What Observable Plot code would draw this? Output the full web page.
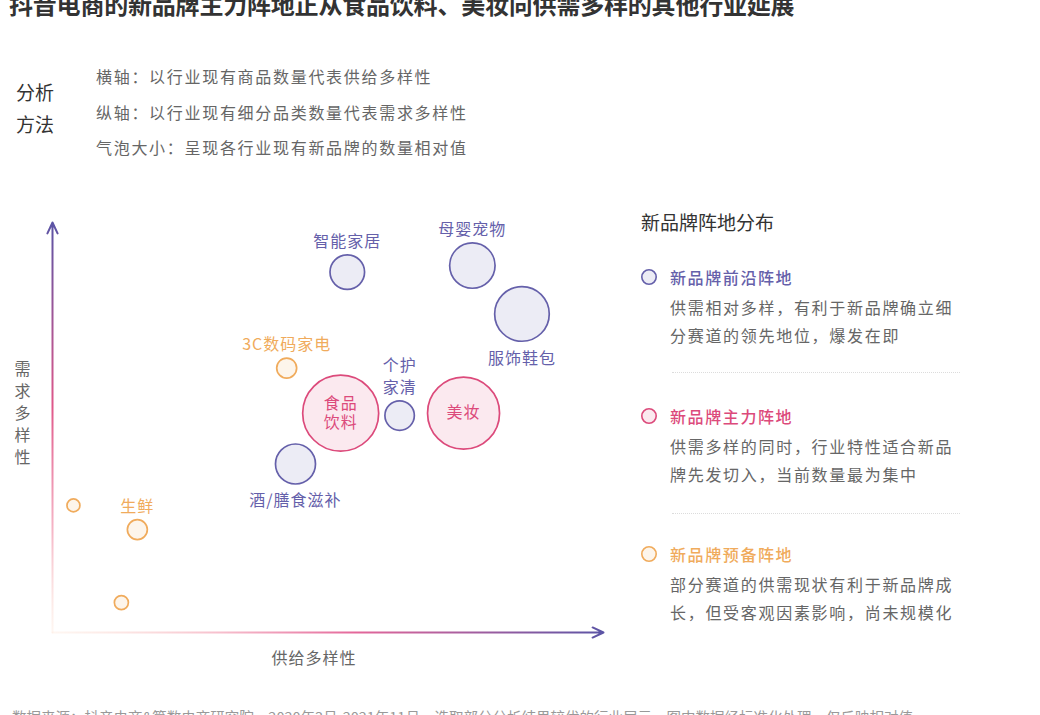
<!DOCTYPE html>
<html><head><meta charset="utf-8">
<script src="https://cdn.jsdelivr.net/npm/d3@7"></script>
<script src="https://cdn.jsdelivr.net/npm/@observablehq/plot@0.6"></script>
<style>
body{margin:0;background:#fff;font-family:"Noto Sans CJK SC","Noto Sans",sans-serif;}
#page{position:relative;width:1040px;height:715px;overflow:hidden;background:#fff;}
.abs{position:absolute;white-space:nowrap;}
.desc{font-size:16px;letter-spacing:1.7px;color:#666;line-height:28px;}
.sep{position:absolute;left:672px;width:288px;border-top:1.5px dotted #dcdcdc;}
</style></head><body><div id="page"></div>
<script>
// ---- data ----
const title = "抖音电商的新品牌主力阵地正从食品饮料、美妆向供需多样的其他行业延展";
const methodLabel = ["分析", "方法"];
const methodLines = [
  "横轴：以行业现有商品数量代表供给多样性",
  "纵轴：以行业现有细分品类数量代表需求多样性",
  "气泡大小：呈现各行业现有新品牌的数量相对值"
];
const xAxisLabel = "供给多样性";
const yAxisLabel = "需求多样性";
const industries = ["智能家居", "母婴宠物", "服饰鞋包", "3C数码家电", "个护家清", "食品饮料", "美妆", "酒/膳食滋补", "生鲜", "预备行业A", "预备行业B"];
const labels     = ["智能家居", "母婴宠物", "服饰鞋包", "3C数码家电", "个护\n家清", "食品\n饮料", "美妆", "酒/膳食滋补", "生鲜", "", ""];
const labelPos   = ["above", "above", "below", "above", "above", "inside", "inside", "below", "above", "", ""];
const supply     = [53.5, 76.2, 85.2, 42.5, 63.0, 52.3, 74.6, 44.1, 15.4, 3.8, 12.5];
const demand     = [87.9, 89.5, 77.7, 64.5, 52.9, 53.5, 53.5, 41.1, 25.1, 31.0, 7.3];
const newBrands  = [20.7, 35.7, 51.6, 6.9, 15.0, 100, 89.8, 27.7, 6.9, 2.9, 3.4];
const groups     = ["新品牌前沿阵地", "新品牌前沿阵地", "新品牌前沿阵地", "新品牌预备阵地", "新品牌前沿阵地", "新品牌主力阵地", "新品牌主力阵地", "新品牌前沿阵地", "新品牌预备阵地", "新品牌预备阵地", "新品牌预备阵地"];
const groupNames  = ["新品牌前沿阵地", "新品牌主力阵地", "新品牌预备阵地"];
const groupColors = ["#6560aa", "#dc4a7b", "#f0ab5c"];
const groupDescs  = [
  ["供需相对多样，有利于新品牌确立细", "分赛道的领先地位，爆发在即"],
  ["供需多样的同时，行业特性适合新品", "牌先发切入，当前数量最为集中"],
  ["部分赛道的供需现状有利于新品牌成", "长，但受客观因素影响，尚未规模化"]
];
const legendTitle = "新品牌阵地分布";
const source = "数据来源：抖音电商&算数电商研究院，2020年3月-2021年11月，选取部分分析结果较优的行业展示，图中数据经标准化处理，仅反映相对值";

// ---- page text ----
const page = document.getElementById("page");
function add(html, css, cls = "abs") {
  const d = document.createElement("div");
  d.className = cls; d.innerHTML = html; d.style.cssText = css; page.appendChild(d); return d;
}
add(title, "left:9px;top:-11px;font-size:24px;line-height:30px;font-weight:700;color:#333;letter-spacing:-0.2px;");
add(methodLabel.join("<br>"), "left:16px;top:76px;font-size:19px;line-height:32px;color:#333;");
methodLines.forEach((t, i) => add(t, `left:96px;top:${62 + i * 35.5}px;`, "abs desc"));
add(legendTitle, "left:641px;top:208px;font-size:19px;line-height:28px;color:#333;");
const itemTops = [263, 402, 540];
groupNames.forEach((g, i) => {
  const top = itemTops[i];
  add(`<svg width="18" height="18"><circle cx="9" cy="9" r="7.2" fill="${groupColors[i]}" fill-opacity="0.12" stroke="${groupColors[i]}" stroke-width="1.6"/></svg>`,
      `left:640px;top:${top + 5}px;line-height:0;`);
  add(g, `left:670px;top:${top}px;font-size:16px;line-height:28px;letter-spacing:1.6px;font-weight:500;color:${groupColors[i]};`);
  add(groupDescs[i].join("<br>"), `left:670px;top:${top + 30}px;`, "abs desc");
});
[372, 513].forEach(y => { const s = document.createElement("div"); s.className = "sep"; s.style.top = y + "px"; page.appendChild(s); });
add(source, "left:12px;top:707px;font-size:14.5px;line-height:20px;color:#999;");

// ---- chart ----
const data = industries.map((name, i) => ({
  name, label: labels[i], pos: labelPos[i], x: supply[i], y: demand[i], size: newBrands[i], group: groups[i]
}));
const rOptions = {type: "sqrt", domain: [0, 100], range: [0, 38]};
const rScale = Plot.scale({r: rOptions});
const axes = [{x1: 0, y1: 0, x2: 0, y2: 100}, {x1: 0, y1: 0, x2: 100, y2: 0}];

const marks = [
  Plot.arrow([axes[0]], {x1: "x1", y1: "y1", x2: "x2", y2: "y2", stroke: "url(#gradY)", strokeWidth: 2, headLength: 9, headAngle: 50}),
  Plot.arrow([axes[1]], {x1: "x1", y1: "y1", x2: "x2", y2: "y2", stroke: "url(#gradX)", strokeWidth: 2, headLength: 9, headAngle: 50}),
  Plot.text([yAxisLabel.split("").join("\n")], {frameAnchor: "left", dx: -38, dy: -16, lineAnchor: "middle", lineHeight: 1.375, fill: "#666", fontSize: 16}),
  Plot.text([xAxisLabel], {frameAnchor: "bottom", dx: -14, dy: 26, lineAnchor: "middle", fill: "#666", fontSize: 16}),
  Plot.dot(data, {x: "x", y: "y", r: "size", stroke: "group", fill: "group", fillOpacity: 0.12, strokeWidth: 1.7})
];
for (const d of data) {
  if (!d.label) continue;
  const r = rScale.apply(d.size);
  const common = {x: "x", y: "y", text: "label", fill: "group", fontSize: 16};
  if (d.pos === "above") marks.push(Plot.text([d], {...common, lineAnchor: "bottom", lineHeight: 1.4, dy: -(r + 8)}));
  else if (d.pos === "below") marks.push(Plot.text([d], {...common, lineAnchor: "top", dy: r + 11}));
  else marks.push(Plot.text([d], {...common, lineAnchor: "middle", lineHeight: 1.2, dy: -1}));
}

const plot = Plot.plot({
  width: 620, height: 480,
  marginLeft: 52, marginRight: 17, marginTop: 22, marginBottom: 48,
  x: {domain: [0, 100], axis: null},
  y: {domain: [0, 100], axis: null},
  r: rOptions,
  color: {domain: groupNames, range: groupColors},
  style: {fontFamily: '"Noto Sans CJK SC", sans-serif', fontSize: "16px", letterSpacing: "1px", background: "transparent", overflow: "visible"},
  marks
});

const sx = plot.scale("x"), sy = plot.scale("y");
const defs = d3.select(plot).insert("defs", ":first-child");
const gy = defs.append("linearGradient").attr("id", "gradY").attr("gradientUnits", "userSpaceOnUse")
  .attr("x1", 0).attr("x2", 0).attr("y1", sy.apply(100)).attr("y2", sy.apply(0));
[[0, "#5b54a5", 1], [0.45, "#e0588a", 1], [0.75, "#f3a3b8", 0.8], [1, "#fde3d3", 0.3]].forEach(([o, c, a]) =>
  gy.append("stop").attr("offset", o).attr("stop-color", c).attr("stop-opacity", a));
const gx = defs.append("linearGradient").attr("id", "gradX").attr("gradientUnits", "userSpaceOnUse")
  .attr("y1", 0).attr("y2", 0).attr("x1", sx.apply(0)).attr("x2", sx.apply(100));
[[0, "#fde3d3", 0.3], [0.3, "#f6b9c8", 0.9], [0.55, "#e4679a", 1], [1, "#5b54a5", 1]].forEach(([o, c, a]) =>
  gx.append("stop").attr("offset", o).attr("stop-color", c).attr("stop-opacity", a));

plot.style.position = "absolute";
plot.style.left = "0px";
plot.style.top = "200px";
page.appendChild(plot);
</script>
</body></html>
